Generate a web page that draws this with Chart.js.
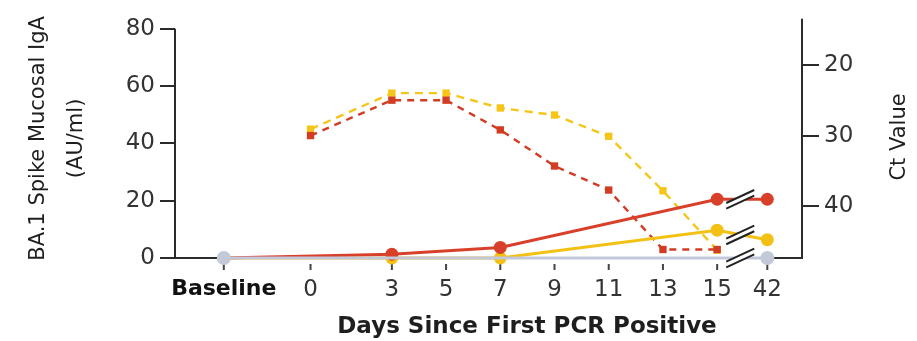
<!DOCTYPE html>
<html>
<head>
<meta charset="utf-8">
<script src="https://cdn.jsdelivr.net/npm/chart.js@4.4.0/dist/chart.umd.min.js"></script>
<style>
  html, body { margin: 0; padding: 0; background: #fff; }
  #wrap { position: relative; width: 917px; height: 341px; }
</style>
</head>
<body>
<div id="wrap"><canvas id="chart" width="917" height="341"></canvas></div>
<script>
const dayLabels = ['Baseline', '0', '3', '5', '7', '9', '11', '13', '15', '42'];

// Ct values (right axis), sampled on days 0..15
const ctDays = ['0', '3', '5', '7', '9', '11', '13', '15'];
const ctYellow = [29.1, 24.0, 24.0, 26.1, 27.1, 30.1, 37.8, 46.2];
const ctRed = [30.0, 25.0, 25.0, 29.2, 34.3, 37.7, 46.1, 46.1];

// BA.1 spike mucosal IgA (left axis)
const igaDays = ['Baseline', '3', '7', '15', '42'];
const igaRed = [0, 1.3, 3.7, 20.5, 20.5];
const igaYellow = [0, 0, 0, 9.7, 6.4];
const igaGreyDays = ['Baseline', '42'];
const igaGrey = [0, 0];

const igaTicks = [0, 20, 40, 60, 80];
const ctTicks = [20, 30, 40];

const RED = '#d8402a';
const YELLOW = '#f3c114';
const GREY = '#c3c7dc';
const INK = '#2b2b2b';
const FONT = "'DejaVu Sans', sans-serif";

Chart.defaults.font.family = FONT;

// x axis is broken between 15 and 42, and Baseline sits left of day 0
function axisPos(label) {
  if (label === 'Baseline') return -3.2;
  if (label === '42') return 16.85;
  return Number(label);
}

const pts = (days, vals) => days.map((d, i) => ({ x: axisPos(d), y: vals[i] }));

const hideFirst = (r) => (ctx) => (ctx.dataIndex === 0 ? 0 : r);

const framePlugin = {
  id: 'frame',
  beforeDatasetsDraw(chart) {
    const { ctx, chartArea: a, scales } = chart;
    const top80 = scales.yIga.getPixelForValue(80);
    ctx.save();
    ctx.strokeStyle = INK;
    ctx.lineWidth = 2;
    ctx.beginPath();
    ctx.moveTo(a.left, top80);
    ctx.lineTo(a.left, a.bottom);
    ctx.lineTo(a.right, a.bottom);
    ctx.lineTo(a.right, a.top);
    ctx.stroke();
    // x tick marks sit a little below the axis line
    ctx.strokeStyle = '#444';
    scales.x.ticks.forEach((t) => {
      const x = scales.x.getPixelForValue(t.value);
      ctx.beginPath();
      ctx.moveTo(x, a.bottom + 6);
      ctx.lineTo(x, a.bottom + 12);
      ctx.stroke();
    });
    ctx.restore();
  },
  afterDatasetsDraw(chart) {
    const { ctx, chartArea: a, scales } = chart;
    const i15 = igaDays.indexOf('15');
    const i42 = igaDays.indexOf('42');
    const xm = (scales.x.getPixelForValue(axisPos('15')) + scales.x.getPixelForValue(axisPos('42'))) / 2 - 2;
    const ys = [
      scales.yIga.getPixelForValue((igaRed[i15] + igaRed[i42]) / 2),
      scales.yIga.getPixelForValue((igaYellow[i15] + igaYellow[i42]) / 2),
      a.bottom,
    ];
    const dx = 14, dy = 6.5, gap = 2.8;
    ctx.save();
    ys.forEach((y) => {
      ctx.fillStyle = '#fff';
      ctx.beginPath();
      ctx.moveTo(xm - dx, y + dy - gap);
      ctx.lineTo(xm + dx, y - dy - gap);
      ctx.lineTo(xm + dx, y - dy + gap);
      ctx.lineTo(xm - dx, y + dy + gap);
      ctx.closePath();
      ctx.fill();
      ctx.strokeStyle = '#222';
      ctx.lineWidth = 2;
      [-gap, gap].forEach((o) => {
        ctx.beginPath();
        ctx.moveTo(xm - dx, y + dy + o);
        ctx.lineTo(xm + dx, y - dy + o);
        ctx.stroke();
      });
    });
    ctx.restore();
  },
  afterDraw(chart) {
    const { ctx } = chart;
    ctx.save();
    ctx.fillStyle = '#1e1e1e';
    ctx.textAlign = 'center';
    ctx.textBaseline = 'middle';
    ctx.font = `bold 23px ${FONT}`;
    ctx.fillText('Days Since First PCR Positive', 527, 327);
    ctx.translate(900, 137);
    ctx.rotate(-Math.PI / 2);
    ctx.font = `21px ${FONT}`;
    ctx.fillText('Ct Value', 0, 0);
    ctx.restore();
  },
};

new Chart(document.getElementById('chart'), {
  type: 'line',
  data: {
    datasets: [
      {
        data: pts(igaGreyDays, igaGrey),
        yAxisID: 'yIga',
        borderColor: GREY,
        backgroundColor: '#c4c9d8',
        borderWidth: 3,
        pointRadius: 7,
        pointBorderWidth: 0,
        clip: false,
        order: 0,
      },
      {
        data: pts(igaDays, igaRed),
        yAxisID: 'yIga',
        borderColor: RED,
        backgroundColor: RED,
        borderWidth: 3,
        pointRadius: hideFirst(6.5),
        pointBorderWidth: 0,
        clip: false,
        order: 1,
      },
      {
        data: pts(igaDays, igaYellow),
        yAxisID: 'yIga',
        borderColor: YELLOW,
        backgroundColor: YELLOW,
        borderWidth: 3,
        pointRadius: hideFirst(6.5),
        pointBorderWidth: 0,
        clip: false,
        order: 2,
      },
      {
        data: pts(ctDays, ctRed),
        yAxisID: 'yCt',
        borderColor: '#d23c22',
        backgroundColor: '#d23c22',
        borderWidth: 2.4,
        borderDash: [7, 6],
        pointStyle: 'rect',
        pointRadius: 5.2,
        pointBorderWidth: 0,
        clip: false,
        order: 3,
      },
      {
        data: pts(ctDays, ctYellow),
        yAxisID: 'yCt',
        borderColor: '#f5c518',
        backgroundColor: '#f5c518',
        borderWidth: 2.4,
        borderDash: [8, 6],
        pointStyle: 'rect',
        pointRadius: 5.2,
        pointBorderWidth: 0,
        clip: false,
        order: 4,
      },
    ],
  },
  options: {
    responsive: false,
    animation: false,
    layout: { padding: { top: 13, left: 0, right: 0, bottom: 0 } },
    plugins: { legend: { display: false }, tooltip: { enabled: false } },
    scales: {
      x: {
        type: 'linear',
        min: -5,
        max: 18.13,
        afterBuildTicks: (s) => { s.ticks = dayLabels.map((l) => ({ value: axisPos(l) })); },
        afterFit: (s) => { s.height = 83; },
        grid: { display: false, drawTicks: false },
        border: { display: false },
        ticks: {
          autoSkip: false,
          maxRotation: 0,
          padding: 18,
          callback: (v, i) => dayLabels[i],
          color: (c) => (c.index === 0 ? '#111' : '#333'),
          font: (c) => ({ family: FONT, size: c.index === 0 ? 22 : 23, weight: c.index === 0 ? 'bold' : 'normal' }),
        },
      },
      yIga: {
        position: 'left',
        min: 0,
        max: 83.5,
        afterBuildTicks: (s) => { s.ticks = igaTicks.map((v) => ({ value: v })); },
        afterFit: (s) => { s.width = 175; },
        grid: { drawOnChartArea: false, drawTicks: true, tickLength: 15, color: INK, lineWidth: 2 },
        border: { display: false },
        ticks: { padding: 5, color: '#333', font: { size: 23 } },
        title: {
          display: true,
          text: ['BA.1 Spike Mucosal IgA', '(AU/ml)'],
          color: '#1e1e1e',
          font: { size: 21, lineHeight: 1.8 },
          padding: { top: 20 },
        },
      },
      yCt: {
        position: 'right',
        reverse: true,
        min: 13.5,
        max: 47.3,
        afterBuildTicks: (s) => { s.ticks = ctTicks.map((v) => ({ value: v })); },
        afterFit: (s) => { s.width = 115; },
        grid: { drawOnChartArea: false, drawTicks: true, tickLength: 17, color: INK, lineWidth: 2 },
        border: { display: false },
        ticks: { padding: 5, color: '#333', font: { size: 23 } },
      },
    },
  },
  plugins: [framePlugin],
});
</script>
</body>
</html>
